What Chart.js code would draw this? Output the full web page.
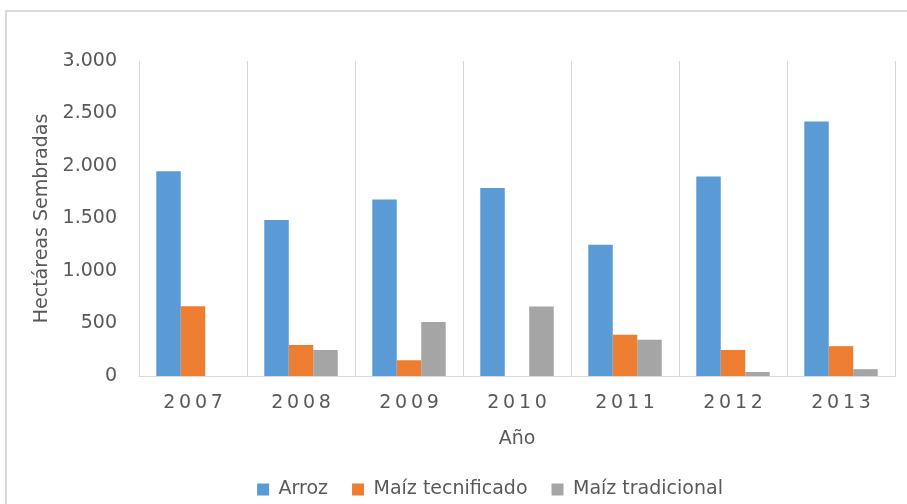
<!DOCTYPE html>
<html>
<head>
<meta charset="utf-8">
<script src="https://cdn.jsdelivr.net/npm/chart.js@4"></script>
<style>
  html, body { margin: 0; padding: 0; background: #fff; overflow: hidden; width: 907px; height: 504px; }
  #frame { position: absolute; left: 5px; top: 10px; width: 990px; height: 520px; border: 2px solid #d9d9d9; box-sizing: border-box; }
  #myChart { position: absolute; left: 0; top: 0; }
</style>
</head>
<body>
<div id="frame"></div>
<canvas id="myChart" width="980" height="509"></canvas>
<script>
//chart data
var years = ['2007', '2008', '2009', '2010', '2011', '2012', '2013'];
var arroz = [1950, 1485, 1680, 1790, 1250, 1900, 2425];
var maizTecnificado = [665, 295, 150, 0, 392, 248, 284];
var maizTradicional = [0, 248, 515, 662, 345, 38, 65];
var yTicks = [0, 500, 1000, 1500, 2000, 2500, 3000];

var textColor = '#595959';
var font = { family: 'DejaVu Sans', size: 19 };

//format thousands with a dot
function formatNumber(v){
	var s = String(v);
	if (s.length > 3) s = s.slice(0, s.length - 3) + '.' + s.slice(s.length - 3);
	return s;
}

var ctx = document.getElementById('myChart');

var data = {
	labels: years,
	datasets: [
		{ label: 'Arroz', data: arroz, backgroundColor: '#5b9bd5' },
		{ label: 'Maíz tecnificado', data: maizTecnificado, backgroundColor: '#ed7d31' },
		{ label: 'Maíz tradicional', data: maizTradicional, backgroundColor: '#a5a5a5' }
	]
};

var myBarChart = new Chart(ctx, {
	type: 'bar',
	data: data,
	options: {
		responsive: false,
		animation: false,
		layout: { padding: { top: 61, left: 0, right: 0, bottom: 0 } },
		datasets: { bar: { categoryPercentage: 0.68, barPercentage: 1 } },
		plugins: {
			tooltip: { enabled: false },
			legend: {
				position: 'bottom',
				labels: { boxWidth: 12, boxHeight: 12, padding: 24, color: textColor, font: font }
			}
		},
		scales: {
			x: {
				grid: { display: true, offset: true, color: '#d9d9d9', lineWidth: 1, drawTicks: false },
				border: { display: true, color: '#d9d9d9', width: 1 },
				ticks: {
					color: textColor, font: font, padding: 16, maxRotation: 0,
					callback: function(value){ return years[value].split('').join('\u2009'); }
				},
				title: { display: true, text: 'Año', color: textColor, font: font, padding: { top: 4, bottom: 6 } },
				afterFit: function(scale){ scale.height = 80; }
			},
			y: {
				min: 0,
				max: 3000,
				afterBuildTicks: function(scale){ scale.ticks = yTicks.map(function(v){ return { value: v }; }); },
				grid: { display: false, drawTicks: false },
				border: { display: false },
				ticks: { color: textColor, font: font, padding: 22, callback: function(v){ return formatNumber(v); } },
				title: { display: true, text: 'Hectáreas Sembradas', color: textColor, font: font, padding: { top: 31, bottom: 4 } },
				afterFit: function(scale){ scale.width = 139; }
			},
			y2: {
				position: 'right',
				display: true,
				grid: { display: false, drawTicks: false },
				border: { display: false },
				ticks: { display: false },
				afterFit: function(scale){ scale.width = 85; }
			}
		}
	}
});
</script>
</body>
</html>
